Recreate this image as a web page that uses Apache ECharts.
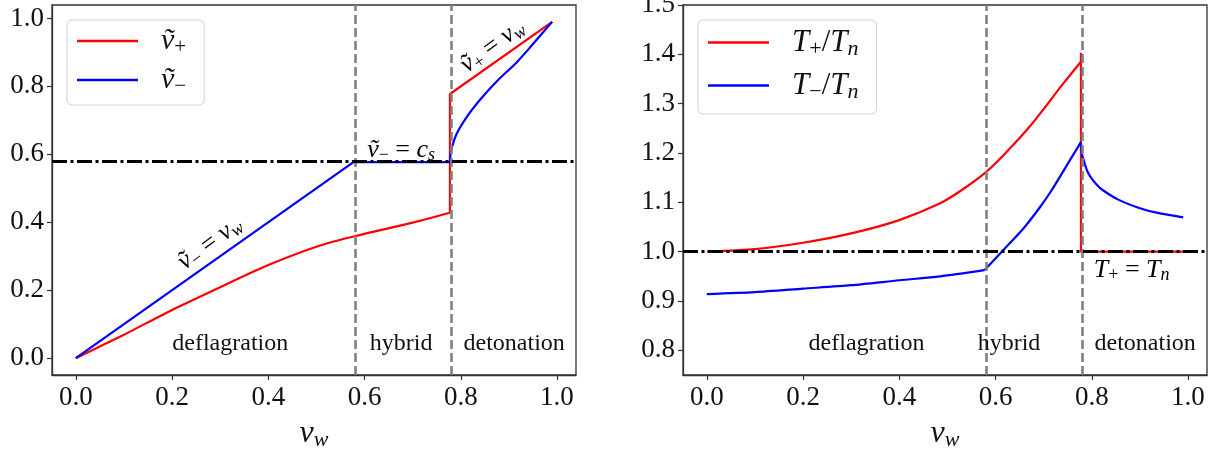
<!DOCTYPE html>
<html><head><meta charset="utf-8">
<script src="https://cdn.jsdelivr.net/npm/echarts@6/dist/echarts.min.js"></script>
<style>html,body{margin:0;padding:0;background:#fff}#c{width:1222px;height:449px}</style>
</head><body><div id="c"></div>
<script>
// ---- constants ----
const CS = 0.577;   // sound speed line / first boundary
const VJ = 0.7775;  // Jouguet velocity / second boundary
const T_REF = 1.0;

// ---- left panel data ----
const vPlusDefX = [0, 0.1, 0.2, 0.3, 0.4, 0.5, 0.577, 0.7, 0.7775];
const vPlusDefY = [0, 0.069, 0.142, 0.209, 0.274, 0.328, 0.358, 0.399, 0.428];
const vPlusDetX = [0.7775, 0.99];
const vPlusDetY = [0.7775, 0.99];
const vMinusDefX = [0, 0.577, 0.7775];
const vMinusDefY = [0, 0.577, 0.577];
const vMinusDetX = [0.7775, 0.7785, 0.782, 0.792, 0.813, 0.841, 0.875, 0.917, 0.951, 0.99];
const vMinusDetY = [0.577, 0.598, 0.622, 0.662, 0.711, 0.762, 0.815, 0.872, 0.926, 0.99];

// ---- right panel data ----
const TpDefX = [0, 0.1, 0.2, 0.3, 0.4, 0.485, 0.530, 0.577, 0.617, 0.672, 0.741, 0.7775];
const TpDefY = [1.0, 1.005, 1.018, 1.037, 1.064, 1.098, 1.125, 1.1586, 1.196, 1.2546, 1.341, 1.385];
const TpDetX = [0.7775, 0.7775, 0.99];
const TpDetY = [1.403, 1.0, 1.0];
const TmDefX = [0, 0.1, 0.2, 0.3, 0.4, 0.485, 0.577];
const TmDefY = [0.914, 0.918, 0.925, 0.932, 0.942, 0.950, 0.9625];
const TmHybX = [0.577, 0.613, 0.658, 0.693, 0.717, 0.75, 0.7775];
const TmHybY = [0.9625, 1.0, 1.047, 1.091, 1.125, 1.178, 1.222];
const TmDetX = [0.7775, 0.779, 0.783, 0.79, 0.797, 0.81, 0.821, 0.854, 0.9, 0.935, 0.99];
const TmDetY = [1.222, 1.20, 1.186, 1.165, 1.152, 1.136, 1.126, 1.106, 1.088, 1.079, 1.0696];

// ---- ticks ----
const xTicks = [0, 0.2, 0.4, 0.6, 0.8, 1.0];
const yTicksL = [0, 0.2, 0.4, 0.6, 0.8, 1.0];
const yTicksR = [0.8, 0.9, 1.0, 1.1, 1.2, 1.3, 1.4, 1.5];

const zip = (a, b) => a.map((v, i) => [v, b[i]]);
const F = '"Liberation Serif", "DejaVu Serif", serif';
const RED = '#ff0000', BLUE = '#0000ff';

const rich = (fs, color) => {
  const c = color || '#111';
  const sfs = Math.round(fs * 0.7);
  const pad = Math.round(fs * 0.42);
  return {
    gap: {width: 18},
    it: {fontFamily: F, fontStyle: 'italic', fontSize: fs, lineHeight: 34, color: c},
    rm: {fontFamily: F, fontSize: fs, lineHeight: 34, color: c},
    sub: {fontFamily: F, fontStyle: 'italic', fontSize: sfs, color: c, padding: [pad, 0, 0, 0]},
    subr: {fontFamily: F, fontSize: sfs, color: c, padding: [pad, 0, 0, 0]}
  };
};

const chart = echarts.init(document.getElementById('c'), null, {renderer: 'canvas'});

function xAxis(gi) {
  return {
    type: 'value', gridIndex: gi, min: -0.0495, max: 1.0395,
    axisLine: {show: true, onZero: false, lineStyle: {color: '#333', width: 1.3}},
    axisTick: {show: true, length: 5, customValues: xTicks, lineStyle: {color: '#333', width: 1.2}},
    axisLabel: {customValues: xTicks, formatter: v => v.toFixed(1), fontFamily: F, fontSize: 27, color: '#111', margin: 9},
    splitLine: {show: false},
    name: '{it|v}{sub|w}', nameLocation: 'middle', nameGap: 41,
    nameTextStyle: {rich: rich(32)}
  };
}
function yAxis(gi, min, max, ticks) {
  return {
    type: 'value', gridIndex: gi, min, max,
    axisLine: {show: true, onZero: false, lineStyle: {color: '#333', width: 1.3}},
    axisTick: {show: true, length: 5, customValues: ticks, lineStyle: {color: '#333', width: 1.2}},
    axisLabel: {customValues: ticks, formatter: v => v.toFixed(1), fontFamily: F, fontSize: 27, color: '#111', margin: 8},
    splitLine: {show: false}
  };
}
const lineS = (name, data, color, xi, smooth) => ({
  name, type: 'line', xAxisIndex: xi, yAxisIndex: xi, data,
  showSymbol: false, symbol: 'none', smooth: smooth || false,
  lineStyle: {color, width: 2.2}, itemStyle: {color}, z: 2, animation: false, silent: true
});
const markS = (xi, hval) => ({
  type: 'line', xAxisIndex: xi, yAxisIndex: xi, data: [], z: 5, animation: false, silent: true,
  markLine: {
    silent: true, symbol: ['none', 'none'], animation: false, label: {show: false},
    data: [
      {xAxis: CS, lineStyle: {color: '#808080', width: 2.6, type: [9, 4]}},
      {xAxis: VJ, lineStyle: {color: '#808080', width: 2.6, type: [9, 4]}},
      {yAxis: hval, lineStyle: {color: '#000', width: 3, type: [15, 3.5, 3, 3.5]}}
    ]
  }
});

const legendCommon = {
  orient: 'vertical', icon: 'rect', itemWidth: 61, itemHeight: 2.4,
  backgroundColor: 'rgba(255,255,255,0.85)', borderColor: '#d0d0d0', borderWidth: 1, borderRadius: 5,
  selectedMode: false
};
const legNames = {
  vp: '{gap|}{it|ṽ}{subr|+}', vm: '{gap|}{it|ṽ}{subr|−}',
  Tp: '{gap|}{it|T}{subr|+}{rm|/}{it|T}{sub|n}', Tm: '{gap|}{it|T}{subr|−}{rm|/}{it|T}{sub|n}'
};

const gridCommon = {top: 5, bottom: 74, show: true, borderColor: '#333', borderWidth: 1.3,
  containLabel: false, outerBoundsMode: 'none'};
const option = {
  backgroundColor: '#fff',
  animation: false,
  grid: [
    Object.assign({left: 52, right: 646}, gridCommon),
    Object.assign({left: 683, right: 15}, gridCommon)
  ],
  xAxis: [xAxis(0), xAxis(1)],
  yAxis: [yAxis(0, -0.0495, 1.0395, yTicksL), yAxis(1, 0.75, 1.5, yTicksR)],
  legend: [
    Object.assign({}, legendCommon, {left: 67, top: 20, padding: [6, 18, 8, 10], itemGap: 7, data: ['vp', 'vm'],
      formatter: n => legNames[n], textStyle: {rich: rich(30)}}),
    Object.assign({}, legendCommon, {left: 698, top: 20, padding: [7, 18, 11, 10], itemGap: 10, data: ['Tp', 'Tm'],
      formatter: n => legNames[n], textStyle: {rich: rich(31)}})
  ],
  series: [
    lineS('vp', zip(vPlusDefX, vPlusDefY), RED, 0, 0.25),
    lineS('vp-det', [[vPlusDefX[vPlusDefX.length - 1], vPlusDefY[vPlusDefY.length - 1]]].concat(zip(vPlusDetX, vPlusDetY)), RED, 0),
    lineS('vm', zip(vMinusDefX, vMinusDefY), BLUE, 0),
    lineS('vm-det', zip(vMinusDetX, vMinusDetY), BLUE, 0, 0.35),
    lineS('Tp', zip(TpDefX, TpDefY), RED, 1, 0.25),
    lineS('Tp-det', [[TpDefX[TpDefX.length - 1], TpDefY[TpDefY.length - 1]]].concat(zip(TpDetX, TpDetY)), RED, 1),
    lineS('Tm', zip(TmDefX, TmDefY), BLUE, 1, 0.25),
    lineS('Tm-hyb', zip(TmHybX, TmHybY), BLUE, 1, 0.25),
    lineS('Tm-det', zip(TmDetX, TmDetY), BLUE, 1, 0.3),
    markS(0, CS),
    markS(1, T_REF)
  ]
};
chart.setOption(option);

// ---- annotations (anchored in data coordinates) ----
const ann = [
  {g: 0, at: [0.279, 0.338], rot: 36, color: 'rgba(0,0,255,0.72)', text: '{it|ṽ}{subr|−}{rm| = }{it|v}{sub|w}'},
  {g: 0, at: [0.676, 0.613], rot: 0, color: 'rgba(0,0,255,0.72)', text: '{it|ṽ}{subr|−}{rm| = }{it|c}{sub|s}'},
  {g: 0, at: [0.866, 0.918], rot: 36, color: 'rgba(255,0,0,0.72)', text: '{it|ṽ}{subr|+}{rm| = }{it|v}{sub|w}'},
  {g: 1, at: [0.883, 0.9625], rot: 0, color: 'rgba(255,0,0,0.72)', text: '{it|T}{subr|+}{rm| = }{it|T}{sub|n}'}
];
const regions = [
  {g: 0, at: [0.321, 0.042], text: 'deflagration'},
  {g: 0, at: [0.676, 0.042], text: 'hybrid'},
  {g: 0, at: [0.911, 0.042], text: 'detonation'},
  {g: 1, at: [0.332, 0.814], text: 'deflagration'},
  {g: 1, at: [0.628, 0.814], text: 'hybrid'},
  {g: 1, at: [0.911, 0.814], text: 'detonation'}
];
const graphics = [];
ann.forEach(a => {
  const p = chart.convertToPixel({gridIndex: a.g}, a.at);
  graphics.push({type: 'text', x: p[0], y: p[1], rotation: a.rot * Math.PI / 180, silent: true, z: 10,
    style: {text: a.text, rich: rich(26, a.color), align: 'center', verticalAlign: 'middle'}});
});
regions.forEach(a => {
  const p = chart.convertToPixel({gridIndex: a.g}, a.at);
  graphics.push({type: 'text', x: p[0], y: p[1], silent: true, z: 10,
    style: {text: a.text, fontFamily: F, fontSize: 24, fill: '#111', align: 'center', verticalAlign: 'middle'}});
});
chart.setOption({graphic: graphics});
</script>
</body></html>
